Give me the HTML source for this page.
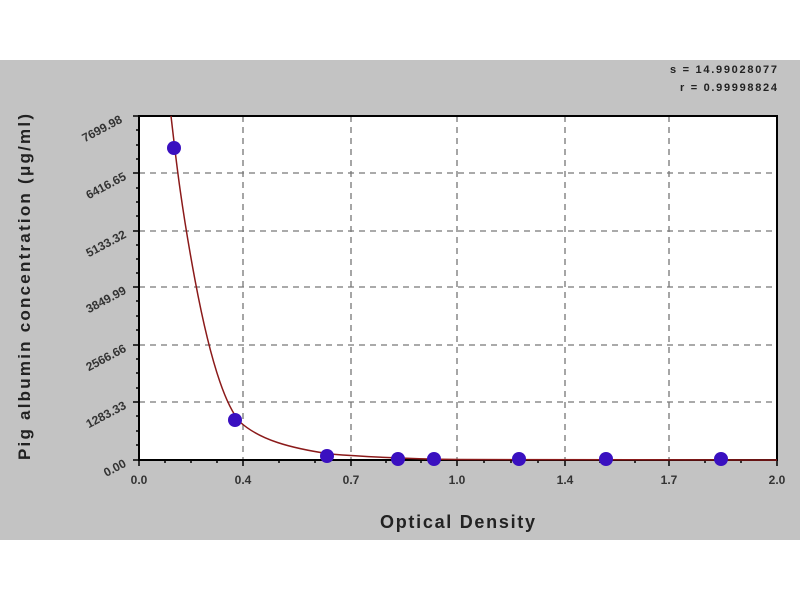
<!DOCTYPE html>
<html><head><style>
body{margin:0;background:#fff;}
svg{display:block;font-family:"Liberation Sans",Arial,sans-serif;}
</style></head><body>
<svg width="800" height="600" viewBox="0 0 800 600">
<rect x="0" y="60" width="800" height="480" fill="#c3c3c3"/>
<rect x="139" y="116" width="638" height="344" fill="#fff"/>
<g stroke="#777" stroke-width="1.3" stroke-dasharray="6,5">
<line x1="243" y1="116" x2="243" y2="460"/><line x1="351" y1="116" x2="351" y2="460"/>
<line x1="457" y1="116" x2="457" y2="460"/><line x1="565" y1="116" x2="565" y2="460"/>
<line x1="669" y1="116" x2="669" y2="460"/>
<line x1="139" y1="173" x2="777" y2="173"/><line x1="139" y1="231" x2="777" y2="231"/>
<line x1="139" y1="287" x2="777" y2="287"/><line x1="139" y1="345" x2="777" y2="345"/>
<line x1="139" y1="402" x2="777" y2="402"/>
</g>
<rect x="139" y="116" width="638" height="344" fill="none" stroke="#000" stroke-width="2"/>
<g stroke="#000" stroke-width="1.5">
<line x1="133" y1="116" x2="139" y2="116"/><line x1="133" y1="173" x2="139" y2="173"/>
<line x1="133" y1="231" x2="139" y2="231"/><line x1="133" y1="287" x2="139" y2="287"/>
<line x1="133" y1="345" x2="139" y2="345"/><line x1="133" y1="402" x2="139" y2="402"/>
<line x1="133" y1="460" x2="139" y2="460"/>
<line x1="136" y1="130" x2="139" y2="130"/><line x1="136" y1="145" x2="139" y2="145"/><line x1="136" y1="159" x2="139" y2="159"/>
<line x1="136" y1="188" x2="139" y2="188"/><line x1="136" y1="202" x2="139" y2="202"/><line x1="136" y1="216" x2="139" y2="216"/>
<line x1="136" y1="245" x2="139" y2="245"/><line x1="136" y1="259" x2="139" y2="259"/><line x1="136" y1="273" x2="139" y2="273"/>
<line x1="136" y1="301" x2="139" y2="301"/><line x1="136" y1="316" x2="139" y2="316"/><line x1="136" y1="330" x2="139" y2="330"/>
<line x1="136" y1="359" x2="139" y2="359"/><line x1="136" y1="373" x2="139" y2="373"/><line x1="136" y1="388" x2="139" y2="388"/>
<line x1="136" y1="416" x2="139" y2="416"/><line x1="136" y1="431" x2="139" y2="431"/><line x1="136" y1="445" x2="139" y2="445"/>
<line x1="139" y1="460" x2="139" y2="466"/><line x1="243" y1="460" x2="243" y2="466"/><line x1="351" y1="460" x2="351" y2="466"/>
<line x1="457" y1="460" x2="457" y2="466"/><line x1="565" y1="460" x2="565" y2="466"/><line x1="669" y1="460" x2="669" y2="466"/>
<line x1="777" y1="460" x2="777" y2="466"/>
<line x1="165" y1="460" x2="165" y2="463"/><line x1="191" y1="460" x2="191" y2="463"/><line x1="217" y1="460" x2="217" y2="463"/>
<line x1="279" y1="460" x2="279" y2="463"/><line x1="315" y1="460" x2="315" y2="463"/>
<line x1="386" y1="460" x2="386" y2="463"/><line x1="421" y1="460" x2="421" y2="463"/>
<line x1="484" y1="460" x2="484" y2="463"/><line x1="511" y1="460" x2="511" y2="463"/><line x1="538" y1="460" x2="538" y2="463"/>
<line x1="600" y1="460" x2="600" y2="463"/><line x1="635" y1="460" x2="635" y2="463"/>
<line x1="705" y1="460" x2="705" y2="463"/><line x1="741" y1="460" x2="741" y2="463"/>
</g>
<path d="M171,116 C175,150 180,200 195,280 C210,360 225,405 240,422 C260,440 290,448 330,454 C380,458 420,459 460,459.5 L777,460" fill="none" stroke="#8b1a1a" stroke-width="1.5"/>
<g fill="#3a10c0">
<circle cx="174" cy="148" r="7"/><circle cx="235" cy="420" r="7"/><circle cx="327" cy="456" r="7"/>
<circle cx="398" cy="459" r="7"/><circle cx="434" cy="459" r="7"/><circle cx="519" cy="459" r="7"/>
<circle cx="606" cy="459" r="7"/><circle cx="721" cy="459" r="7"/>
</g>
<g font-size="12" font-weight="bold" fill="#333" text-anchor="end">
<text transform="translate(123,122) rotate(-28)">7699.98</text>
<text transform="translate(127,179) rotate(-28)">6416.65</text>
<text transform="translate(127,237) rotate(-28)">5133.32</text>
<text transform="translate(127,293) rotate(-28)">3849.99</text>
<text transform="translate(127,351) rotate(-28)">2566.66</text>
<text transform="translate(127,408) rotate(-28)">1283.33</text>
<text transform="translate(127,466) rotate(-28)">0.00</text>
</g>
<g font-size="12" font-weight="bold" fill="#333" text-anchor="middle">
<text x="139" y="484">0.0</text><text x="243" y="484">0.4</text><text x="351" y="484">0.7</text>
<text x="457" y="484">1.0</text><text x="565" y="484">1.4</text><text x="669" y="484">1.7</text>
<text x="777" y="484">2.0</text>
</g>
<text x="380" y="528" font-size="18" font-weight="bold" fill="#222" textLength="155" lengthAdjust="spacing">Optical Density</text>
<text transform="translate(30,460) rotate(-90)" font-size="17" font-weight="bold" fill="#222" textLength="346" lengthAdjust="spacing">Pig albumin concentration (μg/ml)</text>
<g font-size="11" font-weight="bold" fill="#222">
<text x="670" y="73" textLength="107" lengthAdjust="spacing">s = 14.99028077</text>
<text x="680" y="91" textLength="97" lengthAdjust="spacing">r = 0.99998824</text>
</g>
</svg>
</body></html>
